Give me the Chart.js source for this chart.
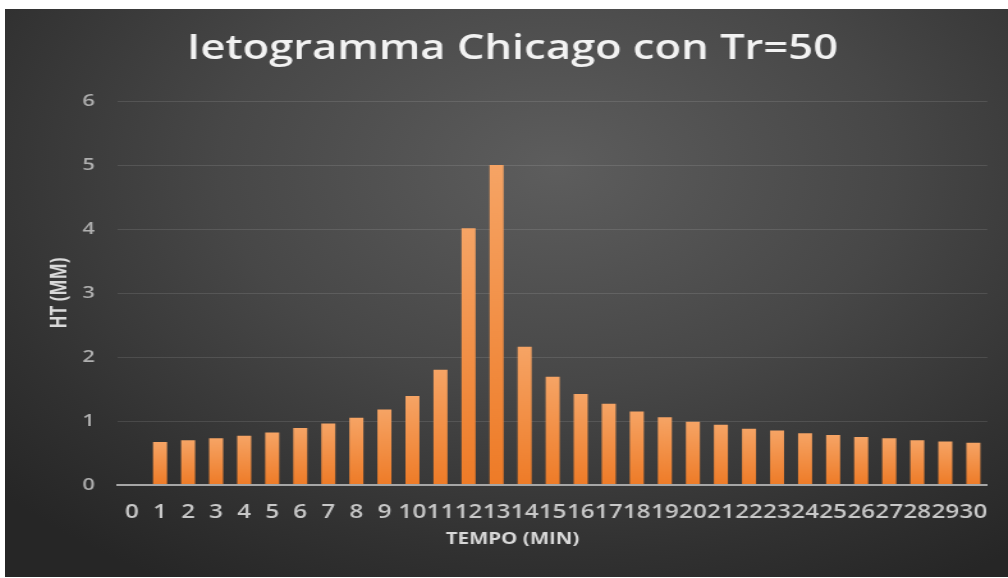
<!DOCTYPE html>
<html lang="it">
<head>
  <meta charset="UTF-8">
  <title>Ietogramma Chicago con Tr=50</title>
  <script src="https://cdn.jsdelivr.net/npm/chart.js"></script>
  <style>
    html, body { margin: 0; padding: 0; background: #fff; }
    #wrap {
      position: absolute; left: 5px; top: 9px; width: 1003px; height: 568px; overflow: hidden;
      background: radial-gradient(ellipse 75% 85% at 55% 28%, #5d5d5d 0%, #474747 45%, #313131 80%, #262626 100%);
    }
    /* the reference is stretched sideways, so the canvas is too */
    #chart { transform: scaleX(1.2793); transform-origin: 0 0; }
  </style>
</head>
<body>
  <div id="wrap">
    <canvas id="chart" width="784" height="568"></canvas>
  </div>

  <script>
    // minuti 0..30
    const minutes = ['0','1','2','3','4','5','6','7','8','9','10','11','12','13','14','15',
                     '16','17','18','19','20','21','22','23','24','25','26','27','28','29','30'];
    // altezza di pioggia per intervallo (mm)
    const ht = [null, 0.67, 0.70, 0.73, 0.77, 0.82, 0.89, 0.96, 1.05, 1.18, 1.39, 1.80, 4.01, 5.00,
                2.16, 1.69, 1.42, 1.27, 1.15, 1.06, 0.99, 0.94, 0.88, 0.85, 0.81, 0.78, 0.75,
                0.73, 0.70, 0.68, 0.66];
    const yMin = 0, yMax = 6, yStep = 1;

    const font = "'Open Sans', 'DejaVu Sans', sans-serif";

    function barFill(ctx) {
      const chart = ctx.chart;
      if (!chart.chartArea || ctx.raw == null) return '#ED7D31';
      const y = chart.scales.y;
      const top = y.getPixelForValue(ctx.raw);
      const base = y.getPixelForValue(0);
      const g = chart.ctx.createLinearGradient(0, top, 0, base);
      g.addColorStop(0, '#F6A465');
      g.addColorStop(1, '#EE7B27');
      return g;
    }

    new Chart(document.getElementById('chart'), {
      type: 'bar',
      data: {
        labels: minutes,
        datasets: [{
          label: 'HT (MM)',
          data: ht,
          backgroundColor: barFill,
          borderWidth: 0,
          barPercentage: 0.5,
          categoryPercentage: 1
        }]
      },
      options: {
        responsive: false,
        animation: false,
        devicePixelRatio: 1,
        layout: { padding: { left: 21.9, right: 12.5, top: 0, bottom: 0 } },
        plugins: {
          legend: { display: false },
          tooltip: { enabled: false },
          title: {
            display: true,
            text: 'Ietogramma Chicago con Tr=50',
            color: '#f2f2f2',
            font: { family: font, size: 34, weight: 600 },
            padding: { top: 19.8, bottom: 31.4 }
          },
          subtitle: {
            display: true,
            position: 'bottom',
            text: 'TEMPO (MIN)',
            color: '#d9d9d9',
            font: { family: font, size: 16, weight: 'bold' },
            padding: { top: 0, bottom: 28 }
          }
        },
        scales: {
          x: {
            grid: { display: false, drawTicks: false },
            border: { display: true, color: '#a6a6a6', width: 2 },
            ticks: {
              color: '#c8c8c8',
              font: { family: font, size: 19, weight: 600 },
              padding: 16,
              autoSkip: false,
              maxRotation: 0
            },
            afterFit: (s) => { s.height = 44.8; }
          },
          y: {
            min: yMin,
            max: yMax,
            grid: {
              drawTicks: false,
              color: (c) => c.tick.value === 0 ? '#a6a6a6' : 'rgba(255,255,255,0.11)',
              lineWidth: (c) => c.tick.value === 0 ? 2 : 1
            },
            border: { display: false },
            ticks: {
              stepSize: yStep,
              color: '#b0b0b0',
              font: { family: font, size: 17, weight: 600 },
              padding: 18
            },
            title: {
              display: true,
              text: 'HT (MM)',
              color: '#d9d9d9',
              font: { family: font, size: 17, weight: 'bold' },
              padding: { top: 11.1, bottom: 0 }
            },
            afterFit: (s) => { s.width = 66.4; }
          }
        }
      }
    });
  </script>
</body>
</html>
